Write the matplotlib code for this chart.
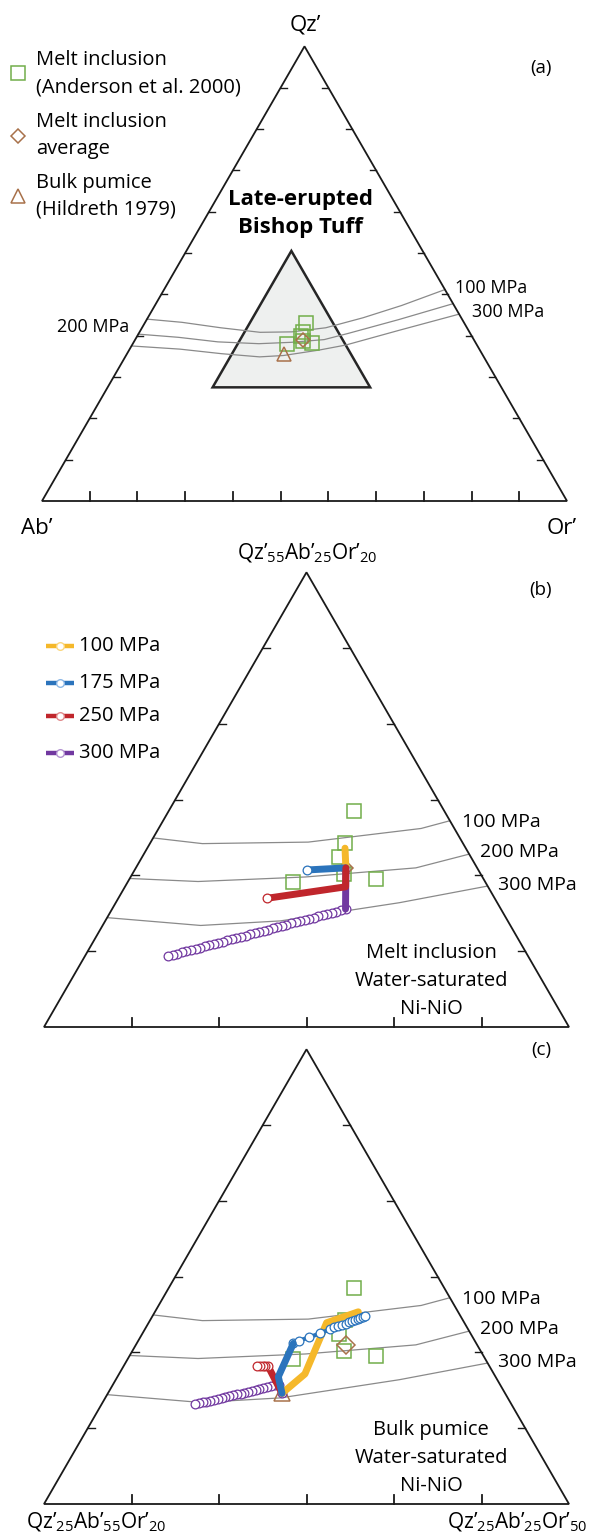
import numpy as np
import matplotlib.pyplot as plt

plt.rcParams['font.family'] = ['Open Sans', 'DejaVu Sans']
plt.rcParams['mathtext.fontset'] = 'custom'
plt.rcParams['mathtext.rm'] = 'Open Sans'

# ---- data (Qz', Or' in wt%, Ab' = 100 - Qz' - Or') ----
# cotectic / minimum curves
c100_or = [0, 7, 15, 23, 29, 35, 41, 47, 53.5]
c100_qz = [40.0, 39.3, 38.1, 37.1, 37.2, 38.1, 40.3, 43.0, 46.5]
c200_or = [0, 8, 16, 24, 30, 36, 40, 48, 56.6]
c200_qz = [36.7, 36.0, 35.0, 34.6, 34.9, 35.5, 36.9, 39.9, 43.4]
c300_or = [0, 9.6, 18, 25.6, 30, 36.2, 40.7, 49.4, 58.9]
c300_qz = [34.1, 33.4, 32.4, 31.7, 32.0, 33.2, 34.3, 37.6, 41.1]

# melt inclusions (Anderson et al. 2000)
mi_qz = [39.25, 37.15, 36.25, 34.6, 34.75, 35.1]
mi_or = [30.6, 31.15, 31.25, 29.4, 34.1, 32.1]
mi_avg_qz = 35.5
mi_avg_or = 32.0
# bulk pumice (Hildreth 1979)
bp_qz = 32.3
bp_or = 29.95

# (b) model paths from melt inclusion average
b100_qz = [35.5, 36.8]
b100_or = [32.0, 31.3]
b175_qz = [35.5, 35.36]
b175_or = [32.0, 29.83]
b250_qz = [35.5, 34.25, 33.49]
b250_or = [32.0, 32.61, 28.48]
b300_qz = [35.5, 32.78]
b300_or = [32.0, 33.34]
b300_chain_qz = [32.78, 32.70, 32.62, 32.54, 32.46, 32.38, 32.30, 32.22, 32.14, 32.07,
                 31.99, 31.91, 31.83, 31.75, 31.67, 31.59, 31.51, 31.43, 31.35, 31.27,
                 31.19, 31.11, 31.03, 30.96, 30.88, 30.80, 30.72, 30.64, 30.56, 30.48,
                 30.40, 30.32, 30.24, 30.16, 30.08, 30.00, 29.92, 29.84, 29.76, 29.68]
b300_chain_or = [33.34, 33.12, 32.90, 32.68, 32.46, 32.24, 32.02, 31.80, 31.58, 31.36,
                 31.14, 30.92, 30.70, 30.48, 30.26, 30.04, 29.82, 29.60, 29.38, 29.16,
                 28.94, 28.72, 28.50, 28.28, 28.06, 27.84, 27.62, 27.40, 27.18, 26.96,
                 26.74, 26.52, 26.30, 26.08, 25.86, 25.64, 25.42, 25.20, 24.98, 24.75]

# (c) model paths from bulk pumice
c_100_qz = [32.3, 33.58, 36.96, 37.68]
c_100_or = [29.95, 30.62, 30.17, 31.62]
c_175_qz = [32.3, 33.4, 35.6]
c_175_or = [29.95, 29.19, 28.95]
c_175_chain_qz = [35.60, 35.77, 36.00, 36.26, 36.52, 36.66, 36.74, 36.83, 36.89, 36.99,
                  37.05, 37.12, 37.18, 37.25, 37.32, 37.40]
c_175_chain_or = [28.95, 29.18, 29.66, 30.14, 30.58, 30.76, 30.95, 31.14, 31.31, 31.46,
                  31.59, 31.71, 31.84, 31.94, 32.05, 32.14]
c_250_qz = [32.3, 34.06]
c_250_or = [29.95, 28.29]
c_250_chain_qz = [34.12, 34.11, 34.10, 34.09, 34.08]
c_250_chain_or = [28.25, 28.10, 27.95, 27.79, 27.64]
c_300_chain_qz = [32.3, 32.88, 32.82, 32.76, 32.70, 32.64, 32.58, 32.53, 32.47, 32.41, 32.35,
                  32.29, 32.23, 32.17, 32.11, 32.05, 31.99, 31.94, 31.88, 31.82,
                  31.76, 31.70, 31.64, 31.58]
c_300_chain_or = [29.95, 29.46, 29.27, 29.09, 28.90, 28.71, 28.52, 28.34, 28.15, 27.96, 27.78,
                  27.59, 27.40, 27.21, 27.03, 26.84, 26.65, 26.46, 26.28, 26.09,
                  25.90, 25.71, 25.53, 25.34]

pressure_labels = ['100 MPa', '175 MPa', '250 MPa', '300 MPa']
path_colors = ['#F5B82A', '#2B74BC', '#C0262C', '#7138A0']
legend_edges = ['#FBD77E', '#8DB8E6', '#E08A8C', '#B393D2']
green = '#72AE4A'
brown = '#A8714A'
curve_gray = '#8a8a8a'

# panel geometry: (x of left corner, y of base, width, Qz' at base, Or' at left, span)
PA = (42, 501, 525, 0, 0, 100)
PB = (44, 1027, 525, 25, 20, 30)
PC = (44, 1504, 525, 25, 20, 30)


def tern(qz, orr, p):
    x0, yb, w, q0, o0, span = p
    a = (np.asarray(qz, float) - q0) / span
    b = (np.asarray(orr, float) - o0) / span
    return x0 + w * (b + a / 2), yb - w * np.sqrt(3) / 2 * a


fig = plt.figure(figsize=(5.9, 15.35), dpi=100)
ax = fig.add_axes([0, 0, 1, 1])
ax.set_xlim(0, 590)
ax.set_ylim(1535, 0)
ax.axis('off')


def frame(p, n, tick=9, side_tick=7):
    x0, yb, w = p[:3]
    h = w * np.sqrt(3) / 2
    tri = plt.Polygon([[x0, yb], [x0 + w, yb], [x0 + w / 2, yb - h]], closed=True,
                      fill=False, ec='#1a1a1a', lw=1.3, zorder=6)
    ax.add_patch(tri)
    for k in range(1, n):
        f = k / n
        xb = x0 + w * f
        ax.plot([xb, xb], [yb, yb - tick], color='#1a1a1a', lw=1.3, zorder=6)
        xl, yl = x0 + w / 2 * f, yb - h * f
        ax.plot([xl, xl + side_tick], [yl, yl], color='#1a1a1a', lw=1.0, zorder=6)
        xr = x0 + w - w / 2 * f
        ax.plot([xr, xr - side_tick], [yl, yl], color='#1a1a1a', lw=1.0, zorder=6)
    return tri


def curves(p, clip=None):
    for o, q in [(c100_or, c100_qz), (c200_or, c200_qz), (c300_or, c300_qz)]:
        x, y = tern(q, o, p)
        ln, = ax.plot(x, y, color=curve_gray, lw=0.9, zorder=2)
        if clip is not None:
            ln.set_clip_path(clip)


def thick(qz, orr, p, c, z):
    x, y = tern(qz, orr, p)
    ax.plot(x, y, color=c, lw=5, solid_capstyle='round', solid_joinstyle='round', zorder=z)


def chain(qz, orr, p, c, z):
    x, y = tern(qz, orr, p)
    ax.plot(x, y, color=c, lw=3, marker='o', ms=6.3, mfc='white', mec=c, mew=0.9, zorder=z)


def dot(qz, orr, p, c, z):
    x, y = tern([qz], [orr], p)
    ax.plot(x, y, 'o', ms=6.3, mfc='white', mec=c, mew=0.9, zorder=z)


def samples(p, z, ms_sq, ms_d, ms_t=None):
    x, y = tern(mi_qz, mi_or, p)
    ax.plot(x, y, 's', ms=ms_sq, mfc='none', mec=green, mew=1.1, zorder=z)
    x, y = tern([mi_avg_qz], [mi_avg_or], p)
    ax.plot(x, y, 'D', ms=ms_d, mfc='none', mec=brown, mew=1.1, zorder=z)
    if ms_t:
        x, y = tern([bp_qz], [bp_or], p)
        ax.plot(x, y, '^', ms=ms_t, mfc='none', mec=brown, mew=1.1, zorder=z)


# ---------------- panel (a) ----------------
frame(PA, 11, tick=9, side_tick=6)
sub = tern([25, 25, 55], [20, 50, 20], PA)
ax.add_patch(plt.Polygon(np.column_stack(sub), closed=True, fc='#eef0ef', ec='#262626',
                         lw=1.8, zorder=1))
curves(PA)
samples(PA, 4, 9.5, 6.8, 9.5)

ax.text(305, 25, 'Qz’', fontsize=16, ha='center', va='center')
ax.text(37, 528, 'Ab’', fontsize=16, ha='center', va='center')
ax.text(562, 528, 'Or’', fontsize=16, ha='center', va='center')
ax.text(541, 68, '(a)', fontsize=13.5, ha='center', va='center')
ax.text(300, 200, 'Late-erupted', fontsize=16, fontweight='bold', ha='center', va='center')
ax.text(300, 228, 'Bishop Tuff', fontsize=16, fontweight='bold', ha='center', va='center')
ax.text(455, 288, '100 MPa', fontsize=13, ha='left', va='center')
ax.text(472, 312, '300 MPa', fontsize=13, ha='left', va='center')
ax.text(129, 327, '200 MPa', fontsize=13, ha='right', va='center')

# legend (a)
ax.plot([18], [73], 's', ms=9.5, mfc='none', mec=green, mew=1.1)
ax.plot([18], [136], 'D', ms=6.8, mfc='none', mec=brown, mew=1.1)
ax.plot([18], [196], '^', ms=9.5, mfc='none', mec=brown, mew=1.1)
for yy, t in [(60, 'Melt inclusion'), (87, '(Anderson et al. 2000)'),
              (122, 'Melt inclusion'), (149, 'average'),
              (183, 'Bulk pumice'), (210, '(Hildreth 1979)')]:
    ax.text(36, yy, t, fontsize=14.5, ha='left', va='center')

sub_label = 'Qz’$_\\mathregular{%s}$Ab’$_\\mathregular{%s}$Or’$_\\mathregular{%s}$'
ax.text(307, 553, sub_label % ('55', '25', '20'), fontsize=15, ha='center', va='center')

# ---------------- panel (b) ----------------
clip_b = frame(PB, 6)
curves(PB, clip_b)
samples(PB, 3, 10.5, 7.0)
chain(b300_chain_qz, b300_chain_or, PB, path_colors[3], 7)
thick(b300_qz, b300_or, PB, path_colors[3], 7)
thick(b100_qz, b100_or, PB, path_colors[0], 8)
thick(b175_qz, b175_or, PB, path_colors[1], 9)
dot(b175_qz[-1], b175_or[-1], PB, path_colors[1], 9)
thick(b250_qz, b250_or, PB, path_colors[2], 10)
dot(b250_qz[-1], b250_or[-1], PB, path_colors[2], 10)

ax.text(541, 590, '(b)', fontsize=13.5, ha='center', va='center')
for i, (lab, c) in enumerate(zip(pressure_labels, path_colors)):
    yy = [646, 683, 716, 753][i]
    ax.plot([46, 74], [yy, yy], color=c, lw=3.2, solid_capstyle='butt')
    ax.plot([60], [yy], 'o', ms=5.5, mfc='white', mec=legend_edges[i], mew=1.0)
    ax.text(79, yy, lab, fontsize=14.5, ha='left', va='center')
for xx, yy, t in [(462, 822, '100 MPa'), (480, 852, '200 MPa'), (498, 885, '300 MPa')]:
    ax.text(xx, yy, t, fontsize=14, ha='left', va='center')
for yy, t in [(953, 'Melt inclusion'), (981, 'Water-saturated'), (1009, 'Ni-NiO')]:
    ax.text(431, yy, t, fontsize=14.5, ha='center', va='center')

# ---------------- panel (c) ----------------
clip_c = frame(PC, 6)
curves(PC, clip_c)
samples(PC, 3, 10.5, 8.7, 12)
chain(c_300_chain_qz, c_300_chain_or, PC, path_colors[3], 7)
thick(c_250_qz, c_250_or, PC, path_colors[2], 8)
chain(c_250_chain_qz, c_250_chain_or, PC, path_colors[2], 8)
thick(c_100_qz, c_100_or, PC, path_colors[0], 9)
chain(c_175_chain_qz, c_175_chain_or, PC, path_colors[1], 10)
thick(c_175_qz, c_175_or, PC, path_colors[1], 10)

ax.text(541, 1050, '(c)', fontsize=13.5, ha='center', va='center')
for xx, yy, t in [(462, 1299, '100 MPa'), (480, 1329, '200 MPa'), (498, 1362, '300 MPa')]:
    ax.text(xx, yy, t, fontsize=14, ha='left', va='center')
for yy, t in [(1430, 'Bulk pumice'), (1458, 'Water-saturated'), (1486, 'Ni-NiO')]:
    ax.text(431, yy, t, fontsize=14.5, ha='center', va='center')
ax.text(96, 1522, sub_label % ('25', '55', '20'), fontsize=15, ha='center', va='center')
ax.text(588, 1522, sub_label % ('25', '25', '50'), fontsize=15, ha='right', va='center')

fig.savefig('out.png', dpi=100)
